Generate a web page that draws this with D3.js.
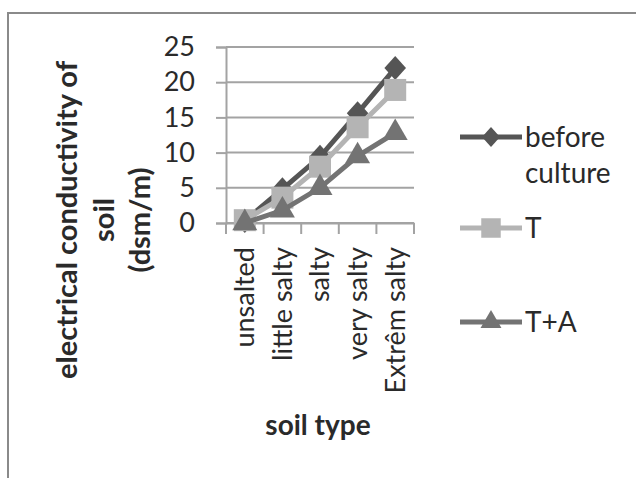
<!DOCTYPE html>
<html>
<head>
<meta charset="utf-8">
<script src="https://cdn.jsdelivr.net/npm/d3@7"></script>
<style>
  body { margin: 0; background: #fff; }
  text { font-family: Lato, "Open Sans", sans-serif; fill: #2a2a2a; }
</style>
</head>
<body>
<div id="chart"></div>
<script>
const categories = ['unsalted', 'little salty', 'salty', 'very salty', 'Extrêm salty'];
const beforeCulture = [0.3, 4.8, 9.4, 15.6, 22];
const tValues = [0.4, 3.6, 8, 13.6, 18.9];
const taValues = [0, 1.8, 5, 9.5, 12.8];
const yTicks = [0, 5, 10, 15, 20, 25];

// diamond drawn a bit wider than d3's own
const wideDiamond = {
  draw(ctx, size) {
    const h = Math.sqrt(size) / 2;
    const w = h * 0.9;
    ctx.moveTo(0, -h);
    ctx.lineTo(w, 0);
    ctx.lineTo(0, h);
    ctx.lineTo(-w, 0);
    ctx.closePath();
  }
};

const series = [
  { name: 'before culture', values: beforeCulture, color: '#555555', symbol: wideDiamond, size: 576, legendSize: 400, legendY: 137 },
  { name: 'T', values: tValues, color: '#b4b4b4', symbol: d3.symbolSquare, size: 484, legendSize: 380, legendY: 228 },
  { name: 'T+A', values: taValues, color: '#737373', symbol: d3.symbolTriangle, size: 270, legendSize: 190, legendY: 322 }
];

const svg = d3.select('#chart')
  .append('svg')
  .attr('width', 636)
  .attr('height', 478);

svg.append('rect')
  .attr('x', 8).attr('y', 13)
  .attr('width', 700).attr('height', 600)
  .attr('fill', 'none')
  .attr('stroke', '#8a8a8a')
  .attr('stroke-width', 2);

const x = d3.scaleBand()
  .domain(categories)
  .range([226, 414]);

const y = d3.scaleLinear()
  .domain([0, 25])
  .range([223, 47]);

// gridlines
svg.append('g')
  .selectAll('line')
  .data(yTicks)
  .enter().append('line')
  .attr('x1', 226).attr('x2', 414)
  .attr('y1', d => y(d)).attr('y2', d => y(d))
  .attr('stroke', '#a3a3a3')
  .attr('stroke-width', 2);

// y axis
const yAxis = svg.append('g')
  .attr('transform', 'translate(226,0)')
  .call(d3.axisLeft(y).tickValues(yTicks).tickSize(10).tickPadding(21));
yAxis.select('.domain').attr('stroke', '#a3a3a3').attr('stroke-width', 2);
yAxis.selectAll('.tick line').attr('stroke', '#a3a3a3').attr('stroke-width', 2);
yAxis.selectAll('.tick text')
  .style('font-family', 'Lato, sans-serif')
  .style('font-size', '27px')
  .attr('fill', '#2a2a2a');

// x axis
const xAxis = svg.append('g')
  .attr('transform', 'translate(0,223)')
  .call(d3.axisBottom(x).tickSize(0).tickPadding(0));
xAxis.select('.domain').attr('stroke', '#a3a3a3').attr('stroke-width', 2);
xAxis.selectAll('.tick text')
  .style('font-family', 'Lato, sans-serif')
  .style('font-size', '27px')
  .attr('fill', '#2a2a2a')
  .attr('text-anchor', 'end')
  .attr('transform', 'translate(0,24) rotate(-90)')
  .attr('dy', '0.35em')
  .attr('y', 0)
  .attr('x', 0);

// band edge ticks
const edges = categories.map(c => x(c)).concat([x.range()[1]]);
svg.append('g')
  .selectAll('line')
  .data(edges)
  .enter().append('line')
  .attr('x1', d => d).attr('x2', d => d)
  .attr('y1', 223).attr('y2', 234)
  .attr('stroke', '#a3a3a3')
  .attr('stroke-width', 2);

const cx = c => x(c) + x.bandwidth() / 2;
const line = d3.line()
  .x((d, i) => cx(categories[i]))
  .y(d => y(d));

series.forEach(s => {
  svg.append('path')
    .datum(s.values)
    .attr('fill', 'none')
    .attr('stroke', s.color)
    .attr('stroke-width', 5)
    .attr('d', line);
  svg.append('g')
    .selectAll('path')
    .data(s.values)
    .enter().append('path')
    .attr('d', d3.symbol().type(s.symbol).size(s.size))
    .attr('transform', (d, i) => `translate(${cx(categories[i])},${y(d)})`)
    .attr('fill', s.color);
});

// legend
series.forEach(s => {
  const g = svg.append('g').attr('transform', `translate(0,${s.legendY})`);
  g.append('line')
    .attr('x1', 460).attr('x2', 522)
    .attr('stroke', s.color).attr('stroke-width', 5);
  g.append('path')
    .attr('d', d3.symbol().type(s.symbol).size(s.legendSize))
    .attr('transform', 'translate(491,0)')
    .attr('fill', s.color);
  const words = s.name === 'before culture' ? ['before', 'culture'] : [s.name];
  words.forEach((w, i) => {
    g.append('text')
      .attr('x', 525)
      .attr('y', i * 36)
      .attr('dy', '0.35em')
      .style('font-size', '28px')
      .text(w);
  });
});

// y title
const yTitle = svg.append('text')
  .attr('transform', 'translate(0,220) rotate(-90)')
  .attr('text-anchor', 'middle')
  .style('font-size', '29px')
  .style('font-weight', 'bold');
['electrical conductivity of', 'soil', '(dsm/m)'].forEach((t, i) => {
  yTitle.append('tspan')
    .attr('x', 0)
    .attr('y', 67 + i * 36.5)
    .attr('dy', '0.35em')
    .text(t);
});

// x title
svg.append('text')
  .attr('x', 318)
  .attr('y', 435)
  .attr('text-anchor', 'middle')
  .style('font-size', '28px')
  .style('font-weight', 'bold')
  .text('soil type');
</script>
</body>
</html>
